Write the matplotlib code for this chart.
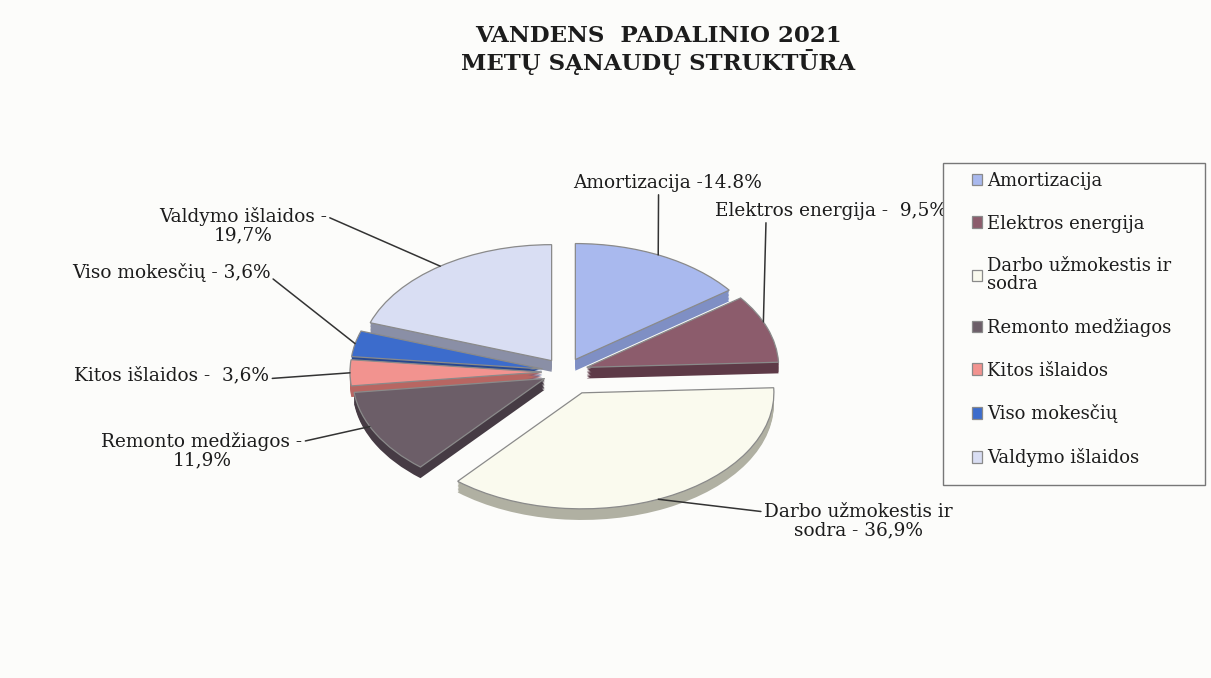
import matplotlib
matplotlib.use("Agg")
import matplotlib.pyplot as plt
from matplotlib.patches import Rectangle
import numpy as np

# ---- data ----
categories = ["Amortizacija", "Elektros energija", "Darbo užmokestis ir\nsodra",
              "Remonto medžiagos", "Kitos išlaidos", "Viso mokesčių", "Valdymo išlaidos"]
values = [14.8, 9.5, 36.9, 11.9, 3.6, 3.6, 19.7]
point_labels = ["Amortizacija -14.8%", "Elektros energija -  9,5%",
                "Darbo užmokestis ir\nsodra - 36,9%", "Remonto medžiagos -\n11,9%",
                "Kitos išlaidos -  3,6%", "Viso mokesčių - 3,6%", "Valdymo išlaidos -\n19,7%"]
title = "VANDENS  PADALINIO 2021\nMETŲ SĄNAUDŲ STRUKTŪRA"

# ---- style ----
colors = ["#a9b9ee", "#8c5c6c", "#fafaee", "#6c5e68", "#f2938f", "#3c6ccc", "#d9def3"]
side_colors = ["#7f8fc4", "#5e3a47", "#b0b0a2", "#463b44", "#b86662", "#28488e", "#8a8fa6"]
explode = [0.12, 0.12, 0.2, 0.12, 0.12, 0.12, 0.12]
bg = "#fcfcfa"
serif = ["DejaVu Serif"]
txt_color = "#1c1c1c"

W, H = 1211, 678
fig = plt.figure(figsize=(W / 100, H / 100), dpi=100, facecolor=bg)

# pie axes: squashed so the pie becomes an ellipse (tilted look)
cx, cy = 565, 372
rx, ry = 192, 116
lim = 1.4
ax = fig.add_axes([(cx - lim * rx) / W, (H - cy - lim * ry) / H,
                   2 * lim * rx / W, 2 * lim * ry / H])
ax.set_facecolor(bg)

# depth (side) layers
for k in range(8, 0, -1):
    ax.pie(values, explode=explode, startangle=90, counterclock=False,
           colors=side_colors, center=(0, -0.012 * k), radius=1.0,
           wedgeprops=dict(edgecolor="none", linewidth=0), frame=True)
wedges, _ = ax.pie(values, explode=explode, startangle=90, counterclock=False,
                   colors=colors, radius=1.0,
                   wedgeprops=dict(edgecolor="#8a8a8a", linewidth=0.9), frame=True)
ax.set_aspect("auto")
ax.set_xlim(-lim, lim)
ax.set_ylim(-lim, lim)
ax.axis("off")

# label positions in figure pixels (from top) and leader attachment
text_pos = [(668, 183), (831, 211), (858, 521), (202, 451), (172, 375), (171, 273), (243, 226)]
relpos = [(0.45, 0.0), (0.22, 0.0), (0.0, 0.75), (1.0, 0.75), (1.0, 0.3), (1.0, 0.3), (1.0, 0.75)]
anchor_frac = [0.52, 0.6, 0.48, 0.41, 0.5, 0.5, 0.5]

for w, lab, (tx, ty), rp, af in zip(wedges, point_labels, text_pos, relpos, anchor_frac):
    t1, t2 = w.theta1, w.theta2
    ang = np.deg2rad(t1 + (t2 - t1) * af)
    x0, y0 = w.center
    px, py = x0 + np.cos(ang), y0 + np.sin(ang)
    ax.annotate(lab, xy=(px, py), xycoords="data",
                xytext=(tx, H - ty), textcoords="figure pixels",
                ha="center", va="center", multialignment="center",
                fontsize=13.3, family=serif, linespacing=1.05, color=txt_color,
                arrowprops=dict(arrowstyle="-", color="#333333", lw=1.1,
                                relpos=rp, shrinkA=0, shrinkB=0))

fig.text(658 / W, 1 - 50 / H, title, ha="center", va="center", fontsize=16.5,
         fontweight="bold", family=serif, linespacing=1.05, color=txt_color)

# legend
fig.patches.append(Rectangle((943 / W, 1 - 485 / H), (1205 - 943) / W, (485 - 163) / H,
                             transform=fig.transFigure, facecolor=bg,
                             edgecolor="#777777", linewidth=1.0, zorder=3))
leg = fig.legend(wedges, categories, loc="upper left",
                 bbox_to_anchor=(968 / W, 1 - 168 / H), frameon=False,
                 prop=dict(family=serif, size=13), labelspacing=1.38,
                 handlelength=0.6, handleheight=0.6, handletextpad=0.25,
                 borderpad=0.2, borderaxespad=0)
leg.set_zorder(4)
for t in leg.get_texts():
    t.set_color(txt_color)
    t.set_linespacing(0.95)

fig.savefig("out.png", dpi=100, facecolor=bg)
